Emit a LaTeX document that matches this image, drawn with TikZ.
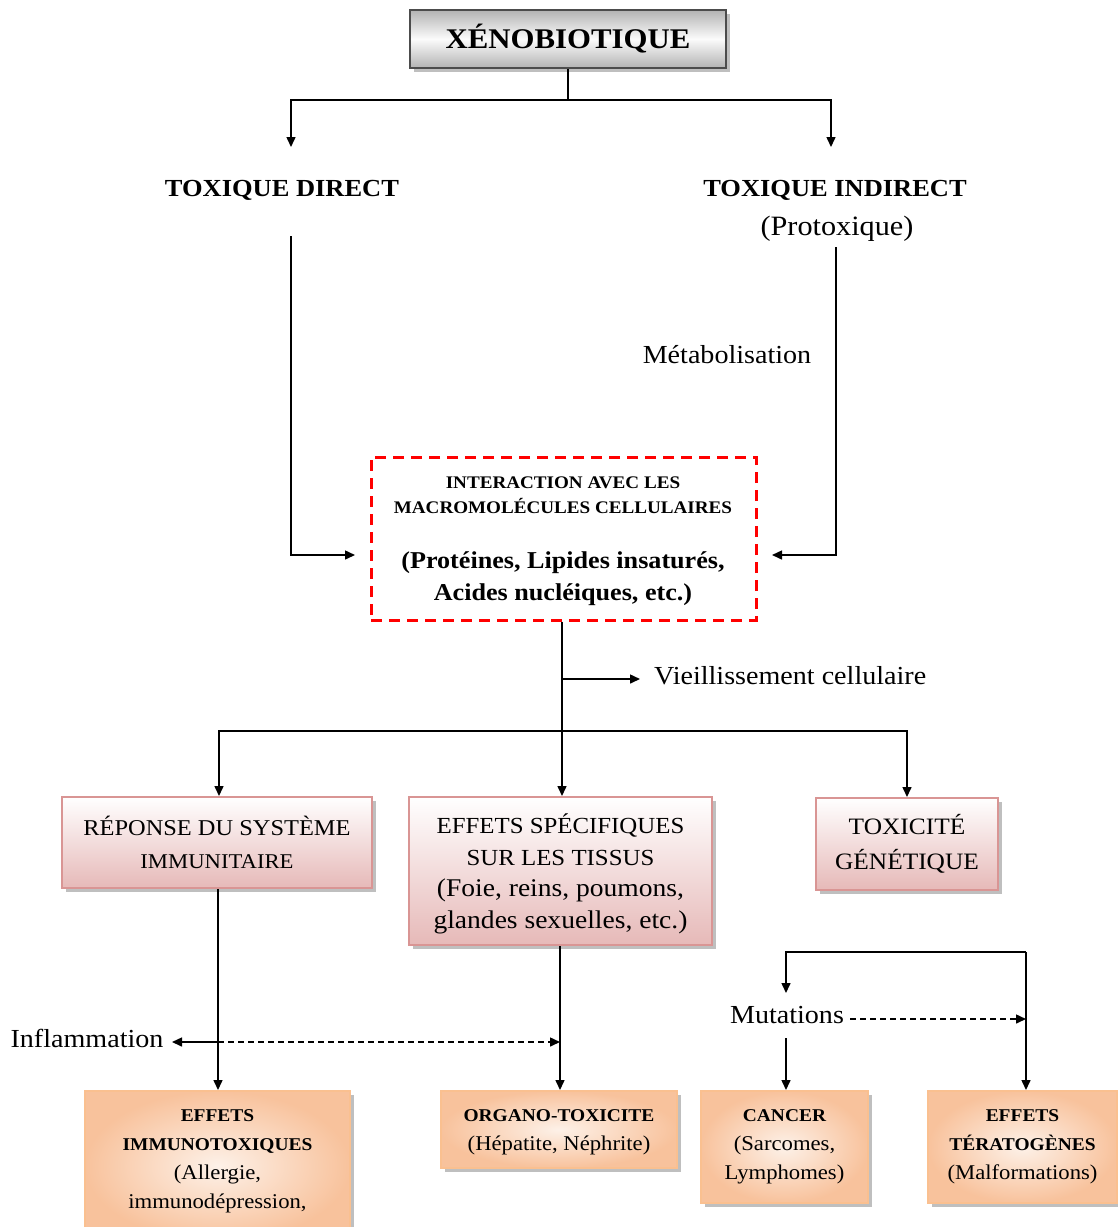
\documentclass[tikz,border=0pt]{standalone}
\usepackage{fontspec}
\setmainfont{Liberation Serif}[FakeStretch=1.08]
\usetikzlibrary{arrows.meta,shadings,shadows}
\definecolor{pinkb}{HTML}{D99594}
\definecolor{pinkf}{HTML}{E6B9B8}
\definecolor{orb}{HTML}{FAC090}
\definecolor{orf}{HTML}{F8C29C}
\definecolor{orl}{HTML}{FDF1E8}
\newcommand{\fs}[2]{\fontsize{#1}{#2}\selectfont}
\begin{document}
\begin{tikzpicture}[x=1pt,y=-1pt,
  arr/.style={line width=1.5pt,-{Triangle[length=10pt,width=9pt]}},
  ln/.style={line width=1.5pt},
  shad/.style={general shadow={fill=gray!50,shadow xshift=4pt,shadow yshift=-4pt}},
  graybox/.style={draw=gray!60!black,line width=2pt,top color=gray!60,bottom color=gray!60,middle color=gray!3,shad,inner sep=0pt},
  pinkbox/.style={draw=pinkb,line width=2pt,top color=white,bottom color=pinkf,shad,inner sep=0pt,align=center},
  orbox/.style={draw=orb,line width=2pt,inner color=orl,outer color=orf,shad,inner sep=0pt,align=center},
  txt/.style={inner sep=0pt,align=center}]
\useasboundingbox (0,0) rectangle (1118,1227);
\fill[white] (0,0) rectangle (1118,1227);

% top
\node[graybox,minimum width=316pt,minimum height=58pt,font=\fs{28.5}{34}\bfseries] (xeno) at (568,39) {XÉNOBIOTIQUE};
\node[txt,font=\fs{24.5}{30}\bfseries] (td) at (282,190) {TOXIQUE DIRECT};
\node[txt,font=\fs{24.5}{30}\bfseries] (ti) at (835,190) {TOXIQUE INDIRECT};
\node[txt,font=\fs{28}{32}] (prot) at (837,229) {(Protoxique)};
\node[txt,font=\fs{26}{30}] (meta) at (727,355) {Métabolisation};

\coordinate (j0) at (568,100);
\coordinate (tdin) at (291,147);
\coordinate (tiin) at (831,147);
\draw[ln] (xeno.south) -- (j0);
\draw[arr] (j0) -| (tdin);
\draw[arr] (j0) -| (tiin);

% interaction box
\node[draw=red,line width=3pt,dash pattern=on 11pt off 7pt,minimum width=385pt,minimum height=163pt,inner sep=0pt] (inter) at (563.5,538.5) {};
\node[txt,font=\fs{17.7}{25}\bfseries] (inter1) at (563,495) {INTERACTION AVEC LES\\MACROMOLÉCULES CELLULAIRES};
\node[txt,font=\fs{24.2}{32}\bfseries] (inter2) at (563,579) {(Protéines, Lipides insaturés,\\Acides nucléiques, etc.)};

\coordinate (tdout) at (291,236);
\coordinate (tdl) at (291,555);
\coordinate (tiout) at (836,247);
\coordinate (til) at (836,555);
\draw[arr] (tdout) -- (tdl) -- (355,555);
\draw[arr] (tiout) -- (til) -- (772,555);

% aging
\node[txt,anchor=west,font=\fs{26}{30}] (vi) at (654,676) {Vieillissement cellulaire};
\coordinate (vj) at (562,679);
\coordinate (vend) at (640,679);
\coordinate (hj) at (562,731);

% second row boxes
\node[pinkbox,minimum width=310pt,minimum height=91pt,font=\fs{22.6}{33}] (rep) at (217,842.5) {RÉPONSE DU SYSTÈME\\\fs{21}{33}IMMUNITAIRE};
\node[pinkbox,minimum width=303pt,minimum height=148pt] (eff) at (560.5,871) {};
\node[txt,font=\fs{23}{31.5}] (efft) at (560.5,874) {EFFETS SPÉCIFIQUES\\SUR LES TISSUS\\\fs{25.5}{31.5}(Foie, reins, poumons,\\\fs{25.5}{31.5}glandes sexuelles, etc.)};
\node[pinkbox,minimum width=182pt,minimum height=92pt,font=\fs{23.5}{35}] (tox) at (907,844) {TOXICITÉ\\GÉNÉTIQUE};

\draw[ln] (inter.south -| vj) -- (vj);
\draw[arr] (vj) -- (vend);
\draw[arr] (vj) -- (eff.north -| vj);
\coordinate (hl) at (219,731);
\coordinate (hr) at (907,731);
\draw[arr] (hj) -- (hl) -- (rep.north -| hl);
\draw[arr] (hj) -- (hr) -- (tox.north -| hr);

% bottom row
\node[orbox,minimum width=265pt,minimum height=150pt] (immu) at (217.5,1166) {};
\node[txt,anchor=north,font=\fs{18}{29}\bfseries] (immut) at (217.5,1109) {EFFETS\\IMMUNOTOXIQUES\\\fs{21}{29}\mdseries(Allergie,\\\fs{21}{29}\mdseries immunodépression,};
\node[orbox,minimum width=236pt,minimum height=77pt] (org) at (559,1129.5) {};
\node[txt,font=\fs{18}{29}\bfseries] (orgt) at (559,1132) {ORGANO-TOXICITE\\\fs{21}{29}\mdseries(Hépatite, Néphrite)};
\node[orbox,minimum width=167pt,minimum height=112pt,font=\fs{18}{29}\bfseries] (canc) at (784.5,1147) {CANCER\\\fs{21}{29}\mdseries(Sarcomes,\\\fs{21}{29}\mdseries Lymphomes)};
\node[orbox,minimum width=189pt,minimum height=112pt,font=\fs{18}{29}\bfseries] (ter) at (1022.5,1147) {EFFETS\\TÉRATOGÈNES\\\fs{21}{29}\mdseries(Malformations)};

\node[txt,font=\fs{26}{30}] (infl) at (87,1038) {Inflammation};
\node[txt,font=\fs{26}{30}] (mut) at (787,1015) {Mutations};

\coordinate (ij) at (218,1042);
\coordinate (ir) at (560,1042);
\draw[arr] (rep.south -| ij) -- (immu.north -| ij);
\draw[arr] (eff.south -| ir) -- (immu.north -| ir);
\draw[arr] (ij) -- (172,1042);
\draw[arr,dash pattern=on 6pt off 4pt] (ij) -- (ir);

\coordinate (c1) at (786,952);
\coordinate (c2) at (1026,952);
\coordinate (mutin) at (786,993);
\coordinate (mutout) at (786,1038);
\coordinate (md) at (850,1019);
\draw[arr] (c2) -- (c1) -- (mutin);
\draw[arr] (c2) -- (ter.north -| c2);
\draw[arr] (mutout) -- (canc.north -| mutout);
\draw[arr,dash pattern=on 6pt off 4pt] (md) -- (md -| c2);
\end{tikzpicture}
\end{document}
